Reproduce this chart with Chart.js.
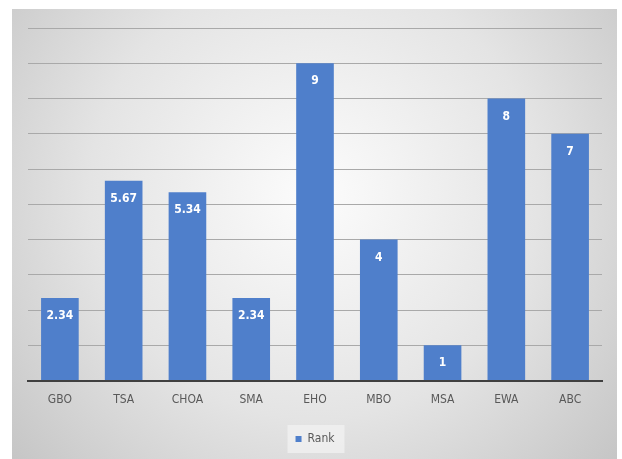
<!DOCTYPE html>
<html>
<head>
<meta charset="utf-8">
<script src="https://cdn.jsdelivr.net/npm/chart.js@4/dist/chart.umd.min.js"></script>
<style>
html,body{margin:0;padding:0;background:#fff;}
#wrap{position:absolute;left:0;top:0;width:622px;height:459px;}
</style>
</head>
<body>
<div id="wrap"><canvas id="c" width="622" height="459"></canvas></div>
<script>
const categories = ["GBO","TSA","CHOA","SMA","EHO","MBO","MSA","EWA","ABC"];
const rankValues = [2.34, 5.67, 5.34, 2.34, 9, 4, 1, 8, 7];
const valueLabels = ["2.34","5.67","5.34","2.34","9","4","1","8","7"];
const seriesName = "Rank";

const FONT = "'Liberation Sans Narrow','DejaVu Sans Condensed','Open Sans',sans-serif";
const LABEL_FONT = "'DejaVu Sans Condensed','Liberation Sans Narrow',sans-serif";

const bgPlugin = {
  id: 'bg',
  beforeDraw(chart) {
    const ctx = chart.ctx;
    ctx.save();
    ctx.fillStyle = '#ffffff';
    ctx.fillRect(0, 0, chart.width, chart.height);
    const x0 = 12, y0 = 9, x1 = 617, y1 = 459;
    const cx = (x0 + x1) / 2, cy = (y0 + y1) / 2 - 40;
    const g = ctx.createRadialGradient(cx, cy, 10, cx, cy, 400);
    g.addColorStop(0, '#fbfbfb');
    g.addColorStop(0.55, '#e4e4e4');
    g.addColorStop(1, '#c6c6c6');
    ctx.fillStyle = g;
    ctx.fillRect(x0, y0, x1 - x0, y1 - y0);
    const lg = chart.legend;
    if (lg && lg.legendHitBoxes && lg.legendHitBoxes.length) {
      const hb = lg.legendHitBoxes[0];
      ctx.fillStyle = 'rgba(240,240,240,0.85)';
      ctx.fillRect(hb.left - 8, hb.top - 8, hb.width + 18, hb.height + 16);
    }
    ctx.restore();
  }
};

const labelPlugin = {
  id: 'vlabels',
  afterDatasetsDraw(chart) {
    const ctx = chart.ctx;
    const meta = chart.getDatasetMeta(0);
    ctx.save();
    ctx.fillStyle = '#ffffff';
    ctx.font = "bold 12px " + LABEL_FONT;
    ctx.textAlign = 'center';
    ctx.textBaseline = 'middle';
    meta.data.forEach((bar, i) => {
      ctx.fillText(valueLabels[i], bar.x, bar.y + 18);
    });
    ctx.restore();
  }
};

new Chart(document.getElementById('c'), {
  type: 'bar',
  data: {
    labels: categories,
    datasets: [{
      label: seriesName,
      data: rankValues,
      backgroundColor: '#4f7fcb',
      categoryPercentage: 1.0,
      barPercentage: 0.59
    }]
  },
  options: {
    responsive: false,
    animation: false,
    devicePixelRatio: 1,
    layout: { padding: { left: 28, right: 20, top: 28, bottom: 4 } },
    plugins: {
      legend: {
        display: true,
        position: 'bottom',
        labels: {
          font: { family: FONT, size: 12 },
          color: '#595959',
          boxWidth: 6,
          boxHeight: 6,
          padding: 14
        }
      },
      tooltip: { enabled: false }
    },
    scales: {
      x: {
        grid: { display: false, drawTicks: false },
        border: { display: true, color: '#404040', width: 2 },
        ticks: { font: { family: FONT, size: 12 }, color: '#595959', padding: 12 }
      },
      y: {
        min: 0, max: 10,
        ticks: { display: false, stepSize: 1 },
        grid: { color: '#a9a9a9', lineWidth: 1, drawTicks: false },
        border: { display: false }
      }
    }
  },
  plugins: [bgPlugin, labelPlugin]
});
</script>
</body>
</html>
